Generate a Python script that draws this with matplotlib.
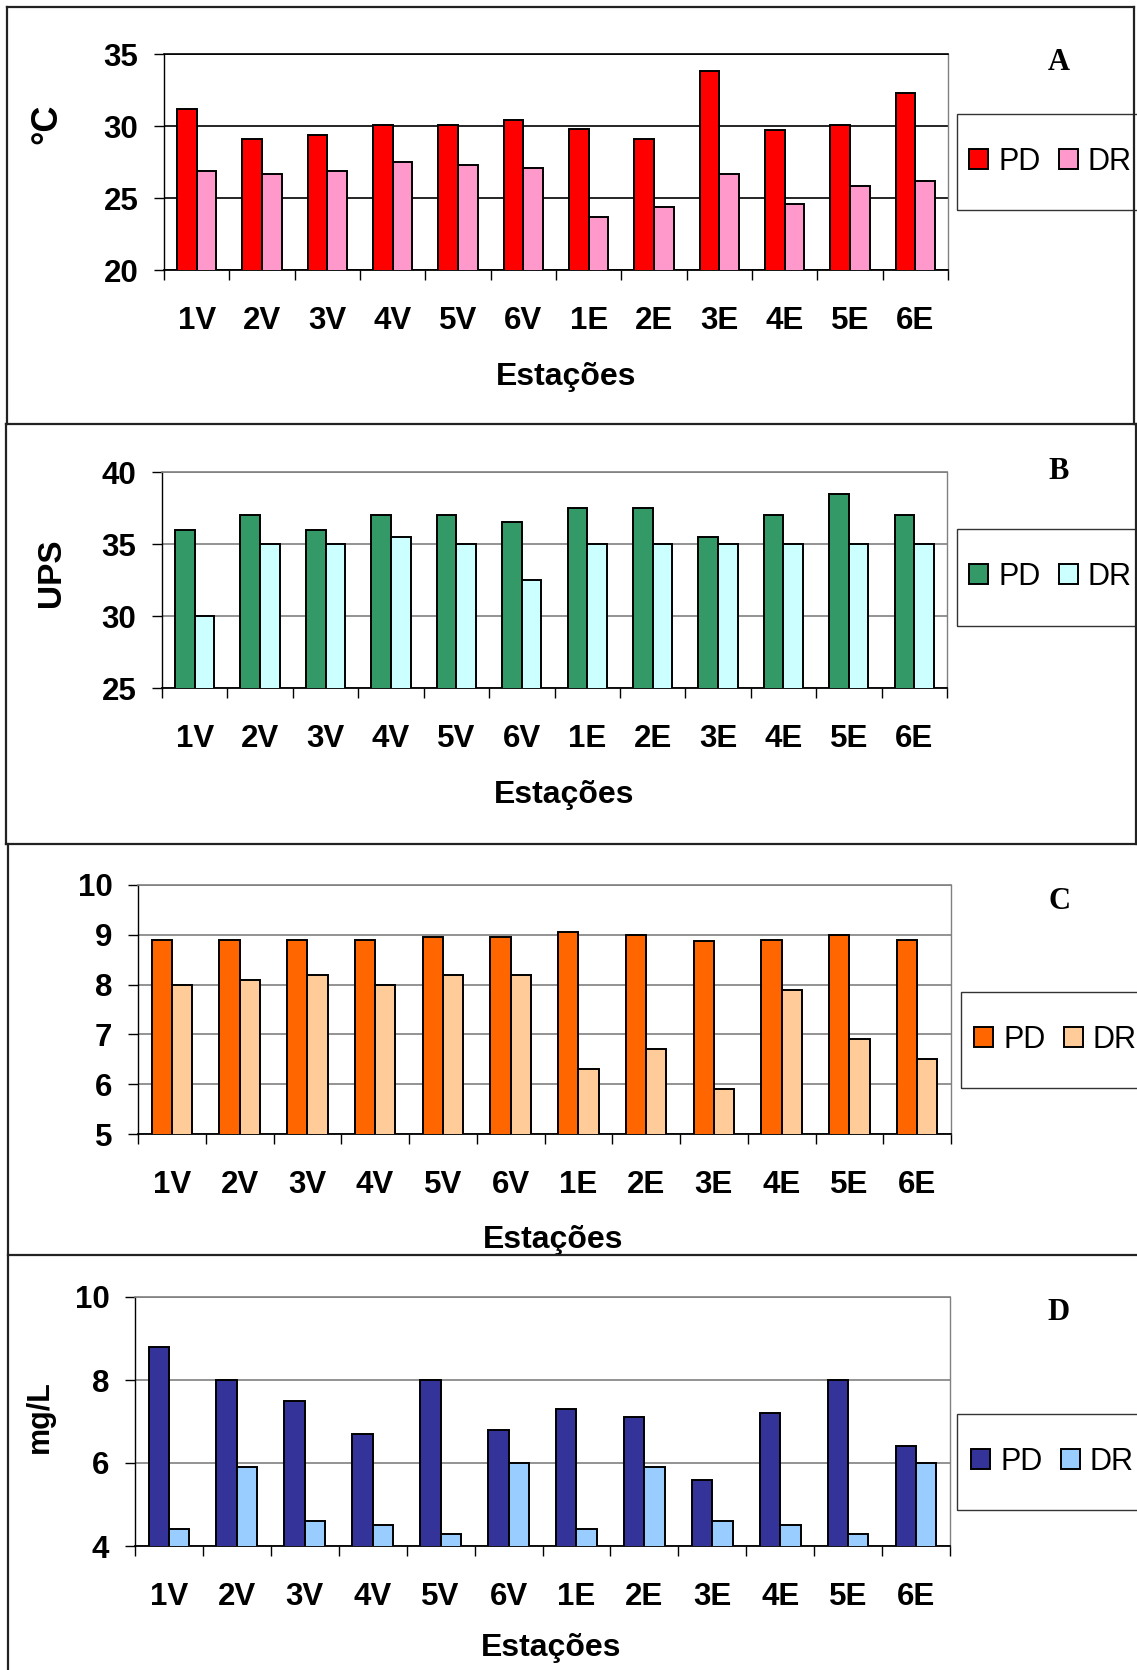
import matplotlib
matplotlib.use('Agg')
import matplotlib.pyplot as plt
import numpy as np
from matplotlib.lines import Line2D
from matplotlib.patches import Rectangle
from matplotlib.ticker import FixedLocator

plt.rcParams['font.family'] = ['Liberation Sans', 'DejaVu Sans']

# ---------------- data ----------------
stations = ['1V', '2V', '3V', '4V', '5V', '6V', '1E', '2E', '3E', '4E', '5E', '6E']
series_names = ['PD', 'DR']

temp_pd = [31.2, 29.1, 29.4, 30.1, 30.1, 30.4, 29.8, 29.1, 33.8, 29.7, 30.1, 32.3]
temp_dr = [26.9, 26.7, 26.9, 27.5, 27.3, 27.1, 23.7, 24.4, 26.7, 24.6, 25.8, 26.2]

sal_pd = [36.0, 37.0, 36.0, 37.0, 37.0, 36.5, 37.5, 37.5, 35.5, 37.0, 38.5, 37.0]
sal_dr = [30.0, 35.0, 35.0, 35.5, 35.0, 32.5, 35.0, 35.0, 35.0, 35.0, 35.0, 35.0]

ph_pd = [8.9, 8.9, 8.9, 8.9, 8.95, 8.95, 9.05, 9.0, 8.87, 8.9, 9.0, 8.9]
ph_dr = [8.0, 8.1, 8.2, 8.0, 8.2, 8.2, 6.3, 6.7, 5.9, 7.9, 6.9, 6.5]

od_pd = [8.8, 8.0, 7.5, 6.7, 8.0, 6.8, 7.3, 7.1, 5.6, 7.2, 8.0, 6.4]
od_dr = [4.4, 5.9, 4.6, 4.5, 4.3, 6.0, 4.4, 5.9, 4.6, 4.5, 4.3, 6.0]

panel_letters = ['A', 'B', 'C', 'D']
y_labels = ['°C', 'UPS', '', 'mg/L']
x_label = 'Estações'

# ---------------- layout ----------------
W, H = 1137, 1670
fig = plt.figure(figsize=(W / 100, H / 100), dpi=100)
fig.patch.set_facecolor('white')


def fx(x):
    return x / W


def fy(y):
    return 1 - y / H


panels = [
    dict(pd=temp_pd, dr=temp_dr, ylim=(20, 35), step=5,
         colors=('#FF0000', '#FF99CC'), grid='#000000',
         rect=(164, 54, 948, 270), ylab=(47, 124), ylab_size=26, xlab=(566, 377),
         letter=(1059, 63), leg=(969, 162), legbox=(957, 114, 1145, 210)),
    dict(pd=sal_pd, dr=sal_dr, ylim=(25, 40), step=5,
         colors=('#339966', '#CCFFFF'), grid='#808080',
         rect=(162, 472, 947, 688), ylab=(51, 573), ylab_size=24, xlab=(564, 795),
         letter=(1059, 472), leg=(969, 577), legbox=(957, 529, 1145, 626)),
    dict(pd=ph_pd, dr=ph_dr, ylim=(5, 10), step=1,
         colors=('#FF6600', '#FFCC99'), grid='#808080',
         rect=(138, 885, 951, 1134), ylab=None, ylab_size=22, xlab=(553, 1240),
         letter=(1060, 902), leg=(974, 1040), legbox=(961, 992, 1145, 1088)),
    dict(pd=od_pd, dr=od_dr, ylim=(4, 10), step=2,
         colors=('#333399', '#99CCFF'), grid='#808080',
         rect=(135, 1297, 950, 1546), ylab=(40, 1417), ylab_size=22, xlab=(551, 1648),
         letter=(1059, 1312), leg=(971, 1462), legbox=(957, 1414, 1145, 1510)),
]

x = np.arange(len(stations))
bw = 0.3
tick_fs = 22.5

for i, p in enumerate(panels):
    l, t, r, b = p['rect']
    ax = fig.add_axes([fx(l), fy(b), (r - l) / W, (b - t) / H])
    lo, hi = p['ylim']
    ax.bar(x - bw / 2, p['pd'], bw, color=p['colors'][0], edgecolor='black',
           linewidth=1.4, label=series_names[0], zorder=3)
    ax.bar(x + bw / 2, p['dr'], bw, color=p['colors'][1], edgecolor='black',
           linewidth=1.4, label=series_names[1], zorder=3)
    ax.set_xlim(-0.5, len(stations) - 0.5)
    ax.set_ylim(lo, hi)
    ax.set_yticks(np.arange(lo, hi + p['step'] / 2, p['step']))
    ax.yaxis.grid(True, color=p['grid'], linewidth=1.2, zorder=0)
    ax.set_axisbelow(True)

    ax.set_xticks(x)
    ax.set_xticklabels(stations, fontsize=tick_fs, fontweight='bold')
    ax.tick_params(axis='x', which='major', length=0, pad=26)
    ax.xaxis.set_minor_locator(FixedLocator(np.arange(-0.5, len(stations), 1.0)))
    ax.tick_params(axis='x', which='minor', length=7.5, width=1.0,
                   direction='out', color='black')
    ax.tick_params(axis='y', length=7.5, width=1.0, direction='out',
                   pad=11, labelsize=tick_fs)
    for lab in ax.get_yticklabels():
        lab.set_fontweight('bold')

    ax.spines['left'].set_color('black')
    ax.spines['left'].set_linewidth(1.0)
    ax.spines['bottom'].set_color('black')
    ax.spines['bottom'].set_linewidth(1.3)
    ax.spines['top'].set_color(p['grid'])
    ax.spines['top'].set_linewidth(1.2)
    ax.spines['right'].set_color('#808080')
    ax.spines['right'].set_linewidth(1.0)

    # axis titles
    ax.set_xlabel(x_label, fontsize=23, fontweight='bold', va='center')
    ax.xaxis.set_label_coords(fx(p['xlab'][0]), fy(p['xlab'][1]),
                              transform=fig.transFigure)
    if p['ylab'] is not None:
        ax.set_ylabel(y_labels[i], fontsize=p['ylab_size'], fontweight='bold', va='center')
        ax.yaxis.set_label_coords(fx(p['ylab'][0]), fy(p['ylab'][1]),
                                  transform=fig.transFigure)

    # panel letter
    fig.text(fx(p['letter'][0]), fy(p['letter'][1]), panel_letters[i],
             fontsize=22, fontweight='bold', family='Liberation Serif',
             ha='center', va='center')

    # legend box (behind everything) and legend
    bl, bt, br, bb = p['legbox']
    fig.add_artist(Rectangle((fx(bl), fy(bb)), (br - bl) / W, (bb - bt) / H,
                             transform=fig.transFigure, facecolor='none',
                             edgecolor='#333333', linewidth=1.0, zorder=-1))
    leg = fig.legend(*ax.get_legend_handles_labels(),
                     loc='center left', bbox_to_anchor=(fx(p['leg'][0]), fy(p['leg'][1])),
                     bbox_transform=fig.transFigure, ncol=2, frameon=False,
                     fontsize=22, handlelength=0.62, handleheight=0.62,
                     handletextpad=0.33, columnspacing=0.6, borderpad=0,
                     borderaxespad=0)
    leg.set_zorder(5)

# panel frames
frame_kw = dict(transform=fig.transFigure, color='#222222', linewidth=1.6)
hlines = [(7, 7, 1134), (423.5, 6, 1137), (844, 6, 1137), (1255, 8, 1137)]
for yy, x1, x2 in hlines:
    fig.add_artist(Line2D([fx(x1), fx(x2)], [fy(yy), fy(yy)], **frame_kw))
vlines = [(7, 7, 423.5), (6, 423.5, 844), (8, 844, 1670), (1134, 7, 423.5), (1136, 423.5, 844)]
for xx, y1, y2 in vlines:
    fig.add_artist(Line2D([fx(xx), fx(xx)], [fy(y1), fy(y2)], **frame_kw))

fig.savefig('out.png', dpi=100)
